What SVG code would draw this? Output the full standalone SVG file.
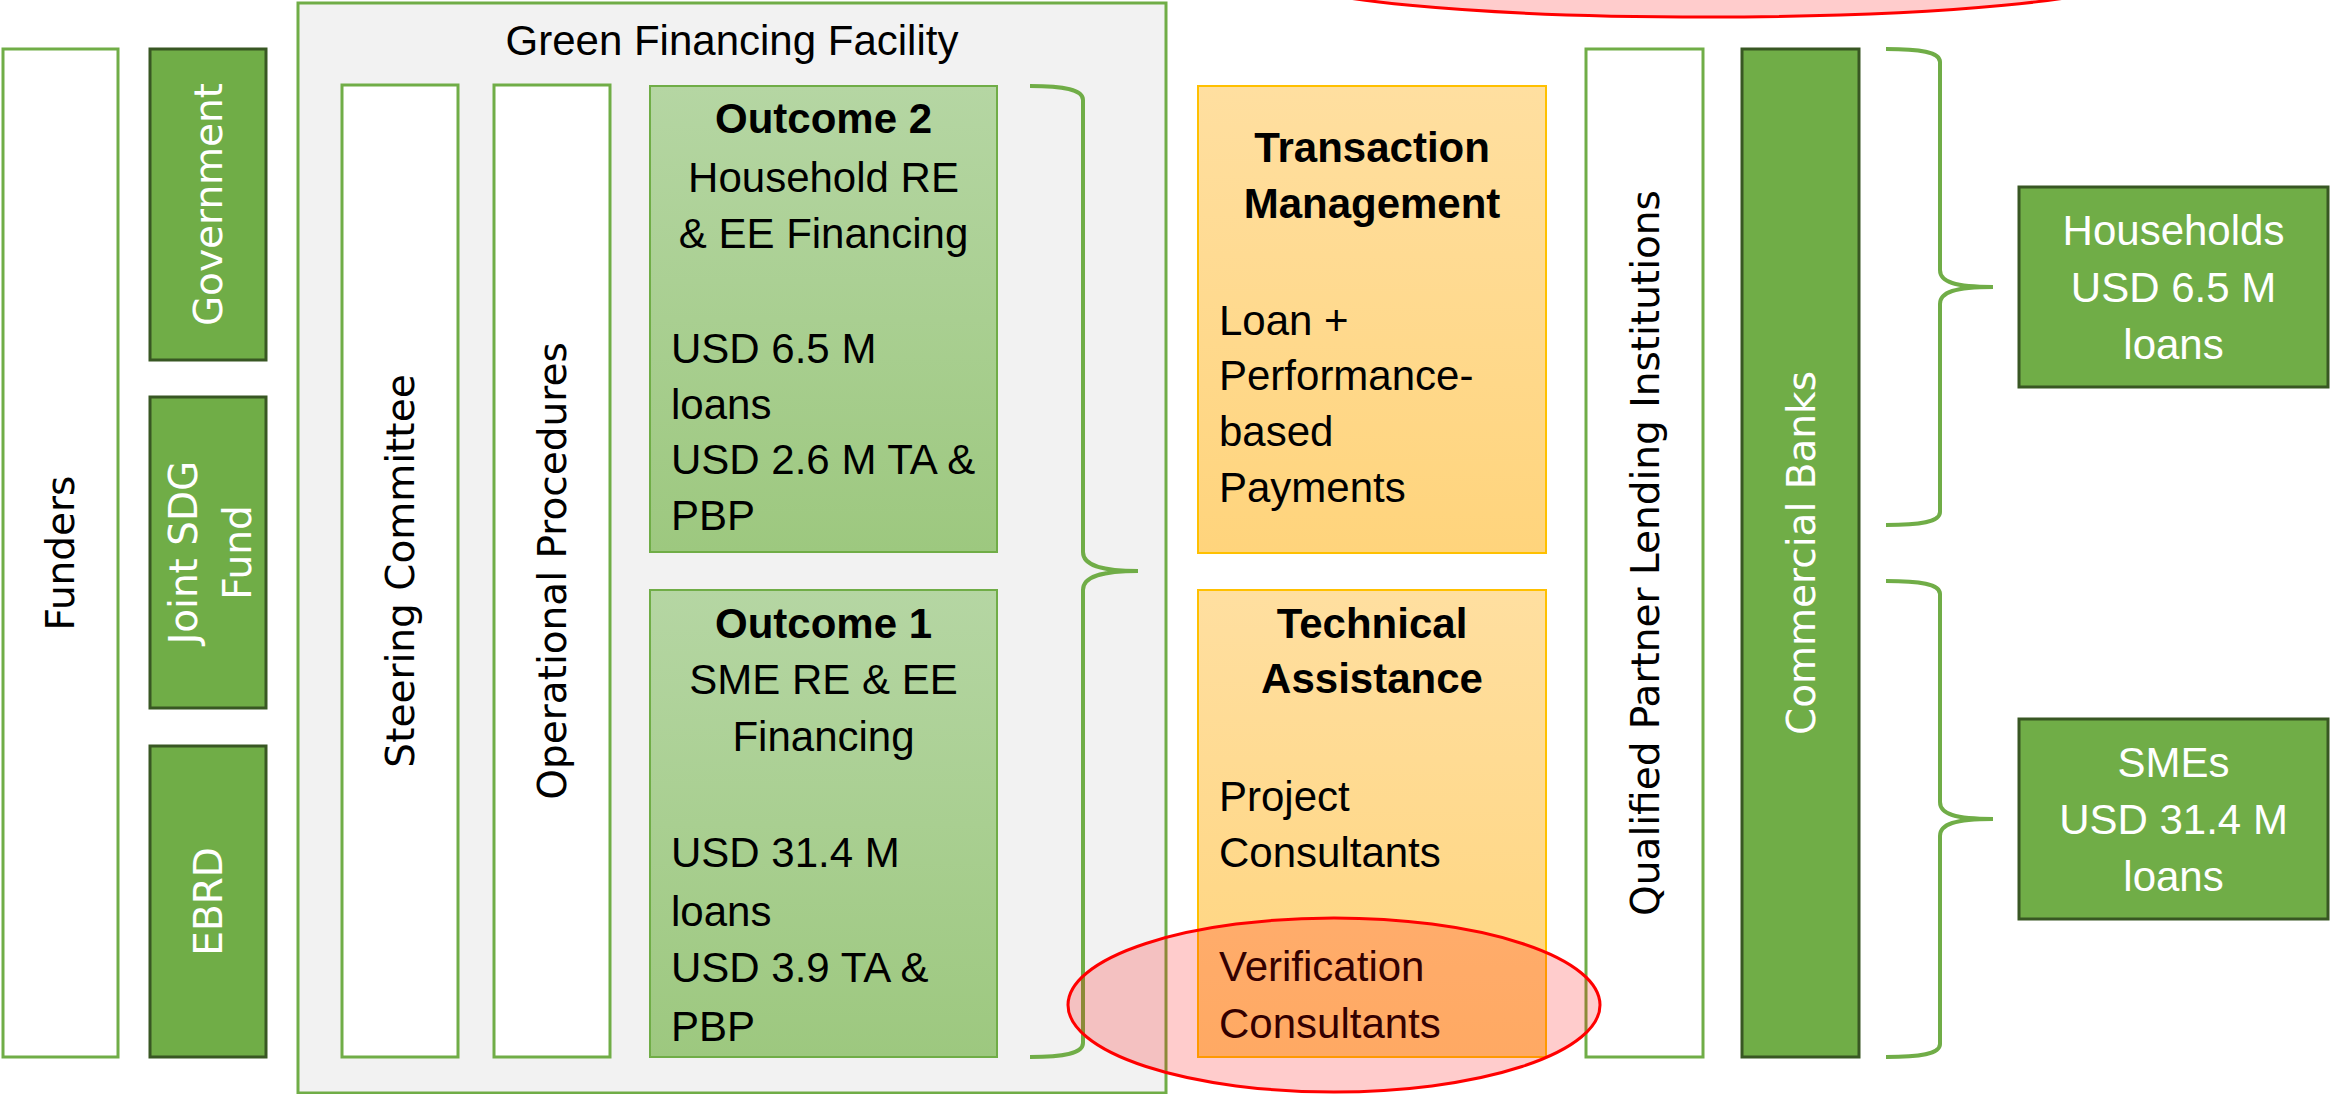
<svg xmlns="http://www.w3.org/2000/svg" width="2331" height="1094" viewBox="0 0 2331 1094">
<defs>
<linearGradient id="gGreen" x1="0" y1="0" x2="0" y2="1">
<stop offset="0" stop-color="#B5D6A3"/>
<stop offset="1" stop-color="#9DC87F"/>
</linearGradient>
<linearGradient id="gOrange" x1="0" y1="0" x2="0" y2="1">
<stop offset="0" stop-color="#FFDFA0"/>
<stop offset="1" stop-color="#FFD47C"/>
</linearGradient>
<style>
.white{fill:#FFFFFF;stroke:#70AD47;stroke-width:3}
.dark{fill:#70AD47;stroke:#385723;stroke-width:3}
.light{fill:url(#gGreen);stroke:#70AD47;stroke-width:2}
.orange{fill:url(#gOrange);stroke:#FFC000;stroke-width:2}
.gff{fill:#F2F2F2;stroke:#70AD47;stroke-width:3}
.brace{fill:none;stroke:#70AD47;stroke-width:4}
.rot{font-family:"DejaVu Sans",Verdana,sans-serif;font-size:39px;text-anchor:middle}
.h{font-family:"Liberation Sans",Arial,sans-serif;font-size:42px;fill:#000}
.c{text-anchor:middle}
.b{font-weight:bold}
.w{fill:#FFFFFF}
.hl{fill:#FF0000;fill-opacity:0.2;stroke:#FF0000;stroke-width:3}
</style>
</defs>

<g id="green-financing-facility">
<rect class="gff" x="298" y="3" width="868" height="1090"/>
<text class="h c" x="732" y="55">Green Financing Facility</text>
</g>

<g id="funders">
<rect class="white" x="3" y="49" width="115" height="1008"/>
<text class="rot" transform="translate(60,553) rotate(-90)" y="14">Funders</text>
</g>
<g id="government">
<rect class="dark" x="150" y="49" width="116" height="311"/>
<text class="rot w" transform="translate(208,204.5) rotate(-90)" y="14">Government</text>
</g>
<g id="joint-sdg-fund">
<rect class="dark" x="150" y="397" width="116" height="311"/>
<text class="rot w" transform="translate(208,552.5) rotate(-90)"><tspan x="0" y="-11">Joint SDG</tspan><tspan x="0" y="43">Fund</tspan></text>
</g>
<g id="ebrd">
<rect class="dark" x="150" y="746" width="116" height="311"/>
<text class="rot w" transform="translate(208,901.5) rotate(-90)" y="14">EBRD</text>
</g>

<g id="steering-committee">
<rect class="white" x="342" y="85" width="116" height="972"/>
<text class="rot" transform="translate(400,571) rotate(-90)" y="14">Steering Committee</text>
</g>
<g id="operational-procedures">
<rect class="white" x="494" y="85" width="116" height="972"/>
<text class="rot" transform="translate(552,571) rotate(-90)" y="14">Operational Procedures</text>
</g>

<g id="outcome-2">
<rect class="light" x="650" y="86" width="347" height="466"/>
<text class="h c b" x="823.5" y="133">Outcome 2</text>
<text class="h c" x="823.5" y="192">Household RE</text>
<text class="h c" x="823.5" y="248">&amp; EE Financing</text>
<text class="h" x="671" y="363">USD 6.5 M</text>
<text class="h" x="671" y="419">loans</text>
<text class="h" x="671" y="474">USD 2.6 M TA &amp;</text>
<text class="h" x="671" y="530">PBP</text>
</g>
<g id="outcome-1">
<rect class="light" x="650" y="590" width="347" height="467"/>
<text class="h c b" x="823.5" y="638">Outcome 1</text>
<text class="h c" x="823.5" y="694">SME RE &amp; EE</text>
<text class="h c" x="823.5" y="751">Financing</text>
<text class="h" x="671" y="867">USD 31.4 M</text>
<text class="h" x="671" y="926">loans</text>
<text class="h" x="671" y="982">USD 3.9 TA &amp;</text>
<text class="h" x="671" y="1041">PBP</text>
</g>

<g id="transaction-management">
<rect class="orange" x="1198" y="86" width="348" height="467"/>
<text class="h c b" x="1372" y="162">Transaction</text>
<text class="h c b" x="1372" y="218">Management</text>
<text class="h" x="1219" y="335">Loan +</text>
<text class="h" x="1219" y="390">Performance-</text>
<text class="h" x="1219" y="446">based</text>
<text class="h" x="1219" y="502">Payments</text>
</g>
<g id="technical-assistance">
<rect class="orange" x="1198" y="590" width="348" height="467"/>
<text class="h c b" x="1372" y="638">Technical</text>
<text class="h c b" x="1372" y="693">Assistance</text>
<text class="h" x="1219" y="811">Project</text>
<text class="h" x="1219" y="867">Consultants</text>
<text class="h" x="1219" y="981">Verification</text>
<text class="h" x="1219" y="1038">Consultants</text>
</g>

<g id="qualified-partner-lending-institutions">
<rect class="white" x="1586" y="49" width="117" height="1008"/>
<text class="rot" transform="translate(1644.5,553) rotate(-90)" y="14">Qualified Partner Lending Institutions</text>
</g>
<g id="commercial-banks">
<rect class="dark" x="1742" y="49" width="117" height="1008"/>
<text class="rot w" transform="translate(1800.5,553) rotate(-90)" y="14">Commercial Banks</text>
</g>

<g id="households">
<rect class="dark" x="2019" y="187" width="309" height="200"/>
<text class="h c w" x="2173.5" y="245">Households</text>
<text class="h c w" x="2173.5" y="302">USD 6.5 M</text>
<text class="h c w" x="2173.5" y="359">loans</text>
</g>
<g id="smes">
<rect class="dark" x="2019" y="719" width="309" height="200"/>
<text class="h c w" x="2173.5" y="777">SMEs</text>
<text class="h c w" x="2173.5" y="834">USD 31.4 M</text>
<text class="h c w" x="2173.5" y="891">loans</text>
</g>

<g id="connectors">
<path class="brace" d="M1030,86 C1065,86 1083,90 1083,100 L1083,552 C1083,565 1100,571 1138,571 C1100,571 1083,577 1083,590 L1083,1043 C1083,1053 1065,1057 1030,1057"/>
<path class="brace" d="M1886,49 C1920,49 1940,52 1940,62 L1940,270 C1940,282 1955,287 1993,287 C1955,287 1940,292 1940,304 L1940,512 C1940,522 1920,525 1886,525"/>
<path class="brace" d="M1886,581 C1920,581 1940,584 1940,594 L1940,802 C1940,814 1955,819 1993,819 C1955,819 1940,824 1940,836 L1940,1044 C1940,1054 1920,1057 1886,1057"/>
</g>

<g id="highlights">
<ellipse class="hl" cx="1707" cy="-23" rx="420" ry="40"/>
<ellipse class="hl" cx="1334" cy="1005" rx="266" ry="87"/>
</g>
</svg>
